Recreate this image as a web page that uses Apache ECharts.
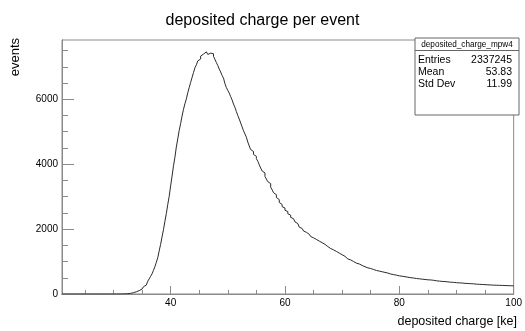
<!DOCTYPE html>
<html>
<head>
<meta charset="utf-8">
<script src="https://cdn.jsdelivr.net/npm/echarts@6/dist/echarts.min.js"></script>
<style>html,body{margin:0;padding:0;background:#fff}#c{width:525px;height:331px}</style>
</head>
<body>
<div id="c"></div>
<script>
// histogram binning
const binLow = 21;
const binWidth = 0.25;
// bin contents (events per bin); one row per 1 ke
const counts = [
  0,0,0,0, 0,0,0,0, 0,0,0,0, 0,0,0,0, 0,0,0,0,
  0,0,0,0, 0,0,0,0, 0,0,0,0, 0,0,0,0, 0,0,0,0,
  0,1,2,4,
  6,10,15,21,
  30,40,53,67,
  86,105,128,152,
  185,225,275,325,
  395,465,545,620,
  730,840,975,1120,
  1330,1530,1760,1980,
  2240,2480,2760,3010,
  3330,3630,3950,4210,
  4530,4780,5040,5250,
  5480,5690,5860,6010,
  6200,6360,6520,6670,
  6820,6970,7060,7180,
  7240,7330,7390,7440,
  7460,7430,7380,7420,
  7450,7400,7320,7230,
  7130,7040,6930,6840,
  6730,6650,6480,6360,
  6270,6190,6080,5980,
  5850,5750,5620,5500,
  5390,5270,5150,5030,
  4930,4830,4680,4560,
  4450,4390,4300,4240,
  4170,4090,3980,3880,
  3790,3730,3620,3540,
  3460,3400,3290,3210,
  3120,3060,2970,2910,
  2820,2760,2690,2650,
  2580,2540,2470,2430,
  2360,2320,2260,2220,
  2170,2130,2060,2020,
  1980,1940,1900,1880,
  1840,1820,1770,1730,
  1700,1680,1650,1630,
  1600,1580,1550,1530,
  1480,1460,1420,1400,
  1380,1360,1330,1310,
  1280,1260,1230,1210,
  1190,1160,1100,1080,
  1070,1050,1020,1000,
  970,950,935,925,
  895,880,860,840,
  815,805,795,785,
  765,755,735,725,
  715,705,695,685,
  675,665,655,645,
  625,615,605,598,
  590,580,570,560,
  553,547,538,532,
  523,517,508,502,
  497,493,483,477,
  472,468,463,457,
  452,448,443,437,
  437,433,428,422,
  413,407,403,397,
  392,388,386,384,
  377,373,367,363,
  361,359,352,348,
  347,343,342,338,
  332,328,327,323,
  322,318,317,313,
  307,303,302,298,
  297,293,292,288,
  287,283,282,278,
  277,273,273,271,
  269,267,266,264,
  263,261,259,257,
  256,254,253,251
];
const xMin = 21, xMax = 100;
const yMax = 7825;
const xMajorTicks = [40, 60, 80, 100];
const xMinorTicks = [25,30,35,45,50,55,65,70,75,85,90,95];
const yMajorTicks = [0, 2000, 4000, 6000];
const yMinorTicks = [500,1000,1500,2500,3000,3500,4500,5000,5500,6500,7000,7500];
const titleText = 'deposited charge per event';
const xTitle = 'deposited charge [ke]';
const yTitle = 'events';
const statsName = 'deposited_charge_mpw4';
const statsLabels = ['Entries', 'Mean', 'Std Dev'];
const statsValues = ['2337245', '53.83', '11.99'];

const histData = counts.map((c, i) => [binLow + i * binWidth, c]);
histData.push([binLow + counts.length * binWidth, counts[counts.length - 1]]);

const FONT = 'Liberation Sans, Arial, Helvetica, sans-serif';
const axisCol = '#8a8a8a';

const chart = echarts.init(document.getElementById('c'), null, {renderer: 'canvas'});

function xAxisDef(ticks, len, labels) {
  return {
    type: 'value', min: xMin, max: xMax, position: 'bottom',
    axisLine: {show: true, onZero: false, lineStyle: {color: axisCol, width: 1}},
    axisTick: {show: true, inside: true, length: len, customValues: ticks, lineStyle: {color: axisCol}},
    axisLabel: {show: labels, customValues: ticks, color: '#000', fontSize: 10, fontFamily: FONT, margin: 4,
                formatter: v => String(v)},
    splitLine: {show: false}
  };
}
function yAxisDef(ticks, len, labels) {
  return {
    type: 'value', min: 0, max: yMax, position: 'left',
    axisLine: {show: true, onZero: false, lineStyle: {color: axisCol, width: 1}},
    axisTick: {show: true, inside: true, length: len, customValues: ticks, lineStyle: {color: axisCol}},
    axisLabel: {show: labels, customValues: ticks, color: '#000', fontSize: 10, fontFamily: FONT, margin: 4,
                formatter: v => String(v)},
    splitLine: {show: false}
  };
}

const statsX = 415, statsY = 38, statsW = 104, statsH = 77;

chart.setOption({
  animation: false,
  backgroundColor: '#fff',
  title: {
    text: titleText, left: 'center', top: 8,
    textStyle: {fontSize: 16, fontWeight: 'normal', color: '#000', fontFamily: FONT}
  },
  grid: {left: 62, right: 9, top: 40, bottom: 37, show: true, borderColor: axisCol, borderWidth: 1, backgroundColor: 'transparent'},
  xAxis: [xAxisDef(xMajorTicks, 8, true), xAxisDef(xMinorTicks, 4, false)],
  yAxis: [yAxisDef(yMajorTicks, 12, true), yAxisDef(yMinorTicks, 6, false)],
  series: [{
    type: 'line', step: 'end', data: histData, xAxisIndex: 0, yAxisIndex: 0,
    showSymbol: false, symbol: 'none',
    lineStyle: {color: '#2a2a2a', width: 1},
    clip: true
  }],
  graphic: [
    {type: 'text', x: 15, y: 38, rotation: Math.PI / 2,
     style: {text: yTitle, fontSize: 13, fontFamily: FONT, fill: '#000', align: 'right', verticalAlign: 'middle'}},
    {type: 'text', x: 517, y: 322,
     style: {text: xTitle, fontSize: 12.5, fontFamily: FONT, fill: '#000', align: 'right', verticalAlign: 'middle'}},
    {type: 'rect', shape: {x: statsX, y: statsY, width: statsW, height: statsH},
     style: {fill: '#fff', stroke: '#666', lineWidth: 1}, z: 10},
    {type: 'line', shape: {x1: statsX, y1: 50.5, x2: statsX + statsW, y2: 50.5},
     style: {stroke: '#666', lineWidth: 1}, z: 11},
    {type: 'text', x: statsX + statsW / 2, y: 45, z: 11,
     style: {text: statsName, fontSize: 8.2, fontFamily: FONT, fill: '#000', align: 'center', verticalAlign: 'middle'}},
    ...statsLabels.map((t, i) => ({type: 'text', x: statsX + 3, y: 60 + i * 12.2, z: 11,
      style: {text: t, fontSize: 10.5, fontFamily: FONT, fill: '#000', align: 'left', verticalAlign: 'middle'}})),
    ...statsValues.map((t, i) => ({type: 'text', x: statsX + statsW - 7, y: 60 + i * 12.2, z: 11,
      style: {text: t, fontSize: 10.5, fontFamily: FONT, fill: '#000', align: 'right', verticalAlign: 'middle'}}))
  ]
});
</script>
</body>
</html>
